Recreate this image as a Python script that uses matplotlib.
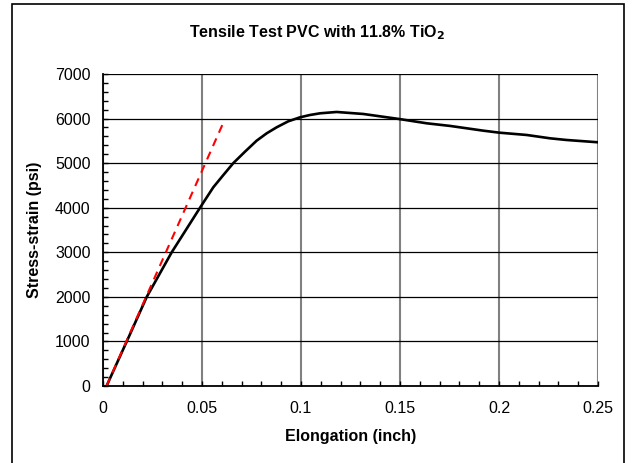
import matplotlib
matplotlib.use("Agg")
import matplotlib.pyplot as plt
import matplotlib.patches as patches
from matplotlib.ticker import MultipleLocator

plt.rcParams['font.family'] = ['Liberation Sans', 'DejaVu Sans']

# measured stress-strain curve
elong = [0.0018, 0.012, 0.0221, 0.0347, 0.049, 0.0557, 0.0608, 0.0658,
         0.0717, 0.0776, 0.0827, 0.0877, 0.0936, 0.0995, 0.1045, 0.1096,
         0.118, 0.1315, 0.1496, 0.1635, 0.1753, 0.192, 0.2001, 0.214,
         0.2258, 0.234, 0.25]
stress = [0, 1000, 2000, 3000, 4000, 4458, 4734, 5000,
          5257, 5504, 5670, 5804, 5939, 6028, 6080, 6118,
          6148, 6103, 5990, 5894, 5835, 5729, 5684, 5632,
          5557, 5520, 5468]

# linear (elastic) fit
fit_x = [0.0018, 0.061]
fit_y = [0, 5930]

fs = 11.5

fig = plt.figure(figsize=(6.32, 4.63), dpi=100)
ax = fig.add_axes([103/632, 1-386/463, 495/632, 312/463])

ax.plot(elong, stress, color='black', lw=1.9, zorder=3,
        solid_joinstyle='round', solid_capstyle='round')
ax.plot(fit_x, fit_y, color='red', lw=1.5, dashes=(4, 3), zorder=4)

ax.set_xlim(0, 0.25)
ax.set_ylim(0, 7000)
ax.xaxis.set_minor_locator(MultipleLocator(0.01))
ax.yaxis.set_major_locator(MultipleLocator(1000))
ax.yaxis.set_minor_locator(MultipleLocator(200))
ax.set_xticks([0, 0.05, 0.1, 0.15, 0.2, 0.25])
ax.set_xticklabels(['0', '0.05', '0.1', '0.15', '0.2', '0.25'])

ax.xaxis.grid(True, which='major', color='#808080', lw=1.5)
ax.yaxis.grid(True, which='major', color='black', lw=0.9)
ax.set_axisbelow(True)

for s in ['top', 'right']:
    ax.spines[s].set_visible(False)
for s in ['left', 'bottom']:
    ax.spines[s].set_color('black')
    ax.spines[s].set_linewidth(1.3)
    ax.spines[s].set_zorder(5)

ax.tick_params(which='both', direction='in', length=3.5, width=1, labelsize=fs,
               top=False, right=False)
ax.tick_params(axis='y', pad=9)
ax.tick_params(axis='x', pad=11)

ax.set_xlabel('Elongation (inch)', fontsize=fs, fontweight='bold', va='center')
ax.set_ylabel('Stress-strain (psi)', fontsize=fs, fontweight='bold', va='center')
ax.xaxis.set_label_coords(0.5, (386-437)/312)
ax.yaxis.set_label_coords((35-103)/495, 0.5)

fig.text(317/632, 1-33/463, 'Tensile Test PVC with 11.8% TiO$_\\mathbf{2}$',
         ha='center', va='center', fontsize=fs, fontweight='bold')

# chart border
fig.patches.append(patches.Rectangle((12/632, -0.02), 612/632, 1.02-4.5/463,
                                     transform=fig.transFigure, fill=False,
                                     edgecolor='black', lw=1.2))

fig.savefig('out.png', dpi=100)
